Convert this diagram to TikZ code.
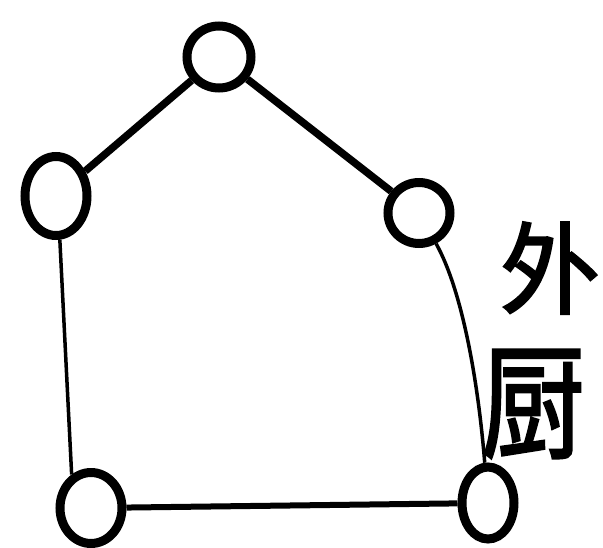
\documentclass[tikz,border=0pt]{standalone}
\usepackage{graphicx}
\usepackage{fontspec}
\newfontfamily\cjk[FakeBold=2]{Noto Sans CJK SC}
\usetikzlibrary{shapes.geometric}
\begin{document}
\begin{tikzpicture}[x=1pt,y=-1pt,
  vert/.style={draw=black,line width=9pt,ellipse,inner sep=0pt},
  thick edge/.style={draw=black,line width=7.5pt},
  thin edge/.style={draw=black,line width=3.5pt},
  cjktext/.style={inner sep=0pt}]
\useasboundingbox (0,0) rectangle (603,547);
\node[vert,minimum width=64pt,minimum height=62pt] (t) at (219,57) {};
\node[vert,minimum width=62pt,minimum height=79pt] (l) at (56,196) {};
\node[vert,minimum width=62pt,minimum height=61pt] (r) at (419,213) {};
\node[vert,minimum width=62pt,minimum height=71pt] (bl) at (91,508) {};
\node[vert,minimum width=52pt,minimum height=72pt] (br) at (488,503) {};
\draw[thick edge] (t) -- (l);
\draw[thick edge] (t) -- (r);
\draw[thin edge] (l.-85) -- (bl.120);
\draw[thin edge] (r) .. controls (462,290) and (478,380) .. (br);
\draw[line width=6pt] (bl) -- (br);
\node[cjktext,font=\cjk\fontsize{100}{100}\selectfont] (w) at (550,268) {外};
\node[cjktext,font=\cjk\fontsize{104}{104}\selectfont] (c) at (533,404) {\scalebox{1}[1.2]{厨}};
\end{tikzpicture}
\end{document}
